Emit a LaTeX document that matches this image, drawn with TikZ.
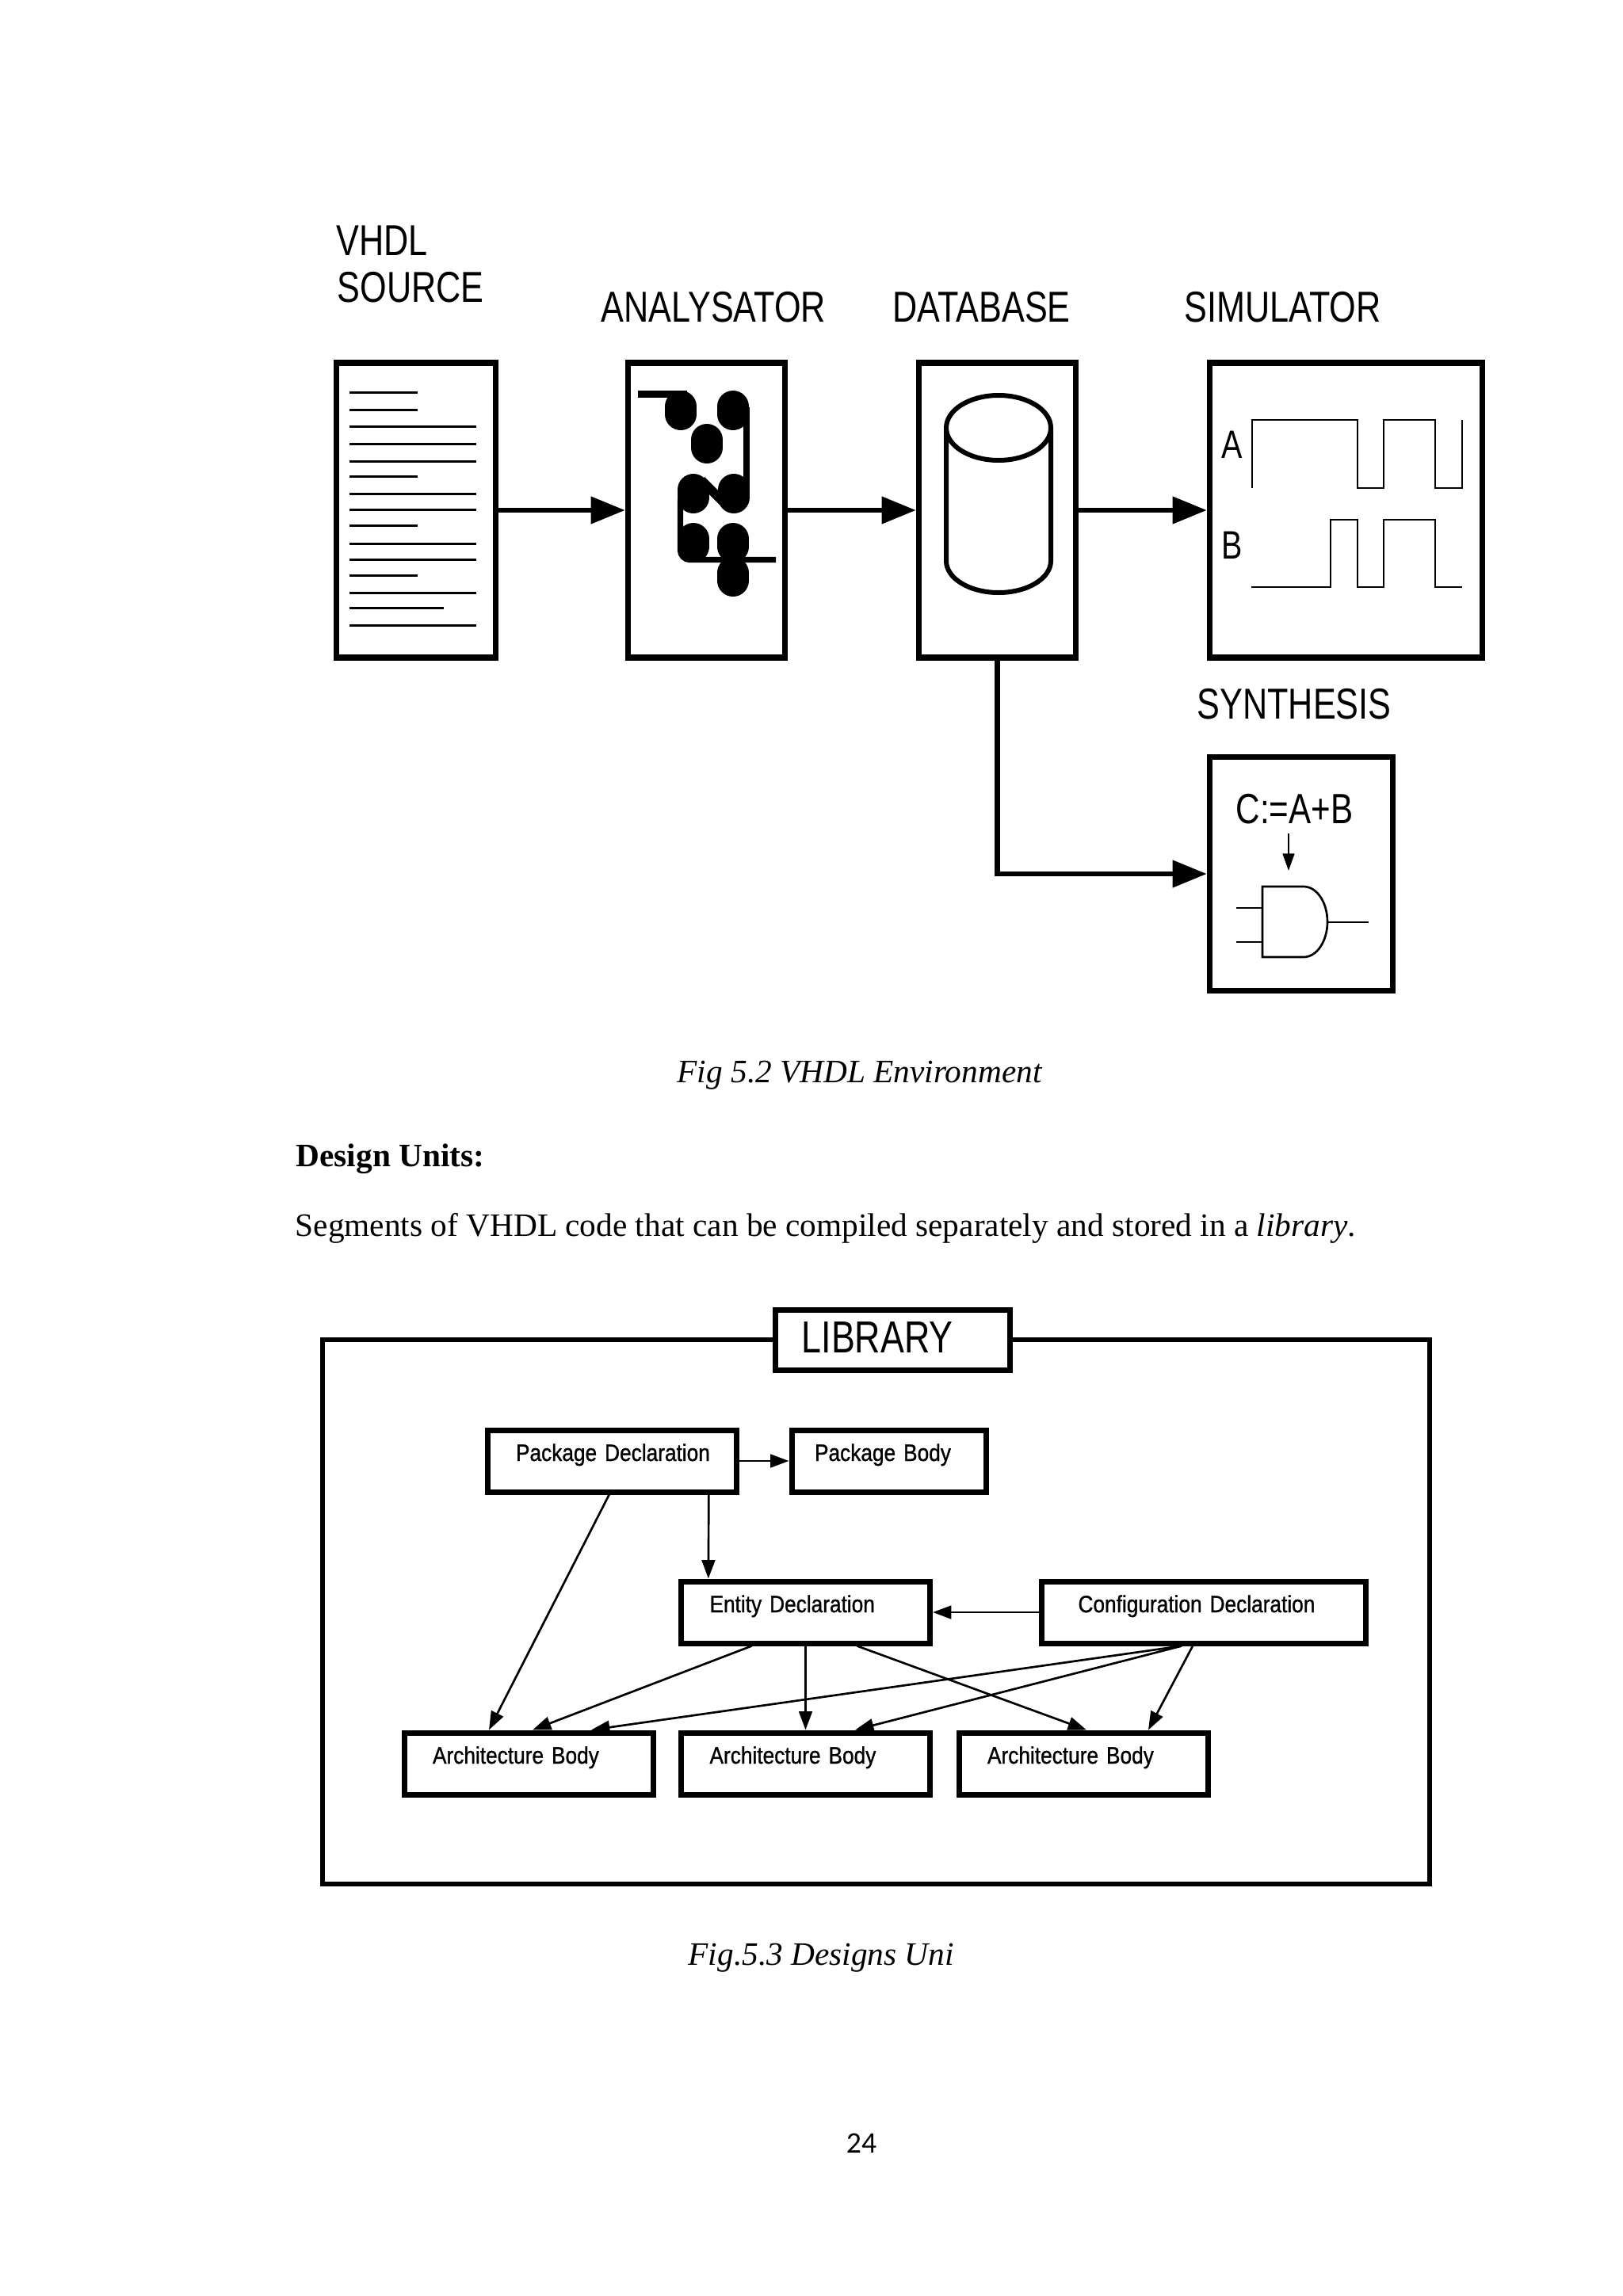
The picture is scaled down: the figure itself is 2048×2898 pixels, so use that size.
\documentclass[tikz,border=0pt]{standalone}
\usepackage{fontspec}
\usetikzlibrary{arrows.meta, positioning, calc}
\setmainfont{Liberation Serif}
\newfontfamily\figfont[FakeStretch=0.79]{Liberation Sans}
\newfontfamily\unitfont[FakeStretch=0.875,FakeBold=1]{Liberation Sans}
\newfontfamily\pagefont{Carlito}

\begin{document}
\begin{tikzpicture}[
    x=0.3pt, y=-0.3pt,
    >={Triangle[length=13pt, width=10pt]},
    figlabel/.style={font=\figfont\fontsize{16.4pt}{19pt}\selectfont, anchor=base west, inner sep=0pt},
    body/.style={font=\fontsize{12.4pt}{15pt}\selectfont, anchor=base west, inner sep=0pt},
    toolbox/.style 2 args={draw, line width=2.2pt, inner sep=0pt,
      minimum width=#1*0.3pt, minimum height=#2*0.3pt},
    unitbox/.style 2 args={draw, line width=2.1pt, inner xsep=0pt, inner ysep=0pt,
      text width=#1, text height=11.7pt, text depth=11.7pt, align=left,
      font=\unitfont\fontsize{9pt}{10pt}\selectfont,
      execute at begin node={\hspace*{#2}}},
    bigarrow/.style={->, line width=2pt},
    thinarrow/.style={-{Triangle[length=7pt, width=5pt]}, line width=0.8pt},
    textline/.style={line width=0.9pt},
    wave/.style={line width=0.8pt},
    blob/.style={line width=12pt, line cap=round},
    wire/.style={line width=2.2pt},
  ]

  % Page
  \useasboundingbox (0,0) rectangle (2048,2898);

  % Tool boxes
  \node[toolbox={201}{372}] (src) at (525,644) {};
  \node[toolbox={198}{372}] (ana) at (891.5,644) {};
  \node[toolbox={198}{372}] (db) at (1258.5,644) {};
  \node[toolbox={344}{372}] (sim) at (1698.5,644) {};
  \node[toolbox={231}{295}] (syn) at (1642,1103) {};

  % Tool titles
  \node[figlabel] (vhdltitle) at (424,322) {VHDL};
  \node[figlabel] (sourcetitle) at (425,381) {SOURCE};
  \node[figlabel] (anatitle) at (758,406) {ANALYSATOR};
  \node[figlabel] (dbtitle) at (1126,406) {DATABASE};
  \node[figlabel] (simtitle) at (1494,406) {SIMULATOR};
  \node[figlabel] (syntitle) at (1510,907) {SYNTHESIS};

  % Text lines of the source file
  \foreach \ypos in {495,517,601,663,726}
    \draw[textline] (441,\ypos) -- (527,\ypos);
  \foreach \ypos in {538,560,582,623,643,686,706,748,789}
    \draw[textline] (441,\ypos) -- (601,\ypos);
  \draw[textline] (441,767) -- (560,767);

  % Analyser gates
  \foreach \xpos/\ypos in {859/513,925/513,892/555,875/618,926/618,875/680,925/680,925/723}
    \draw[blob] (\xpos,\ypos) -- (\xpos,\ypos+10);
  \draw[wire, line width=2.7pt] (805,497.5) -- (867,497.5);
  \draw[wire] (942,514) -- (942,630);
  \draw[wire, rounded corners=3.6pt] (858.5,630) -- (858.5,706.5) -- (979,706.5);
  \draw[wire, line width=3.4pt] (885,606) -- (912,633);

  % Database cylinder
  \draw[line width=1.8pt] (1194,540) arc[start angle=180, end angle=540, x radius=66, y radius=41]
    (1194,540) -- (1194,708) arc[start angle=180, end angle=0, x radius=66, y radius=40] -- (1326,540);

  % Waveforms
  \draw[wave] (1580,616) -- (1580,530) -- (1713,530) -- (1713,616) -- (1746,616) -- (1746,530)
    -- (1811,530) -- (1811,616) -- (1845,616) -- (1845,530);
  \draw[wave] (1579,741) -- (1679,741) -- (1679,656) -- (1713,656) -- (1713,741) -- (1746,741)
    -- (1746,656) -- (1811,656) -- (1811,741) -- (1845,741);
  \node[figlabel, font=\figfont\fontsize{15pt}{18pt}\selectfont] (alabel) at (1541,578) {A};
  \node[figlabel, font=\figfont\fontsize{15pt}{18pt}\selectfont] (blabel) at (1541,705) {B};

  % Gate in the synthesis box
  \node[figlabel, font=\figfont\fontsize{16pt}{18pt}\selectfont] (assign) at (1559,1039) {C:=A+B};
  \coordinate (gatetop) at (1626,1052);
  \coordinate (gatein) at (1626,1099);
  \draw[-{Triangle[length=6.5pt, width=4.4pt]}, line width=0.8pt] (gatetop) -- (gatein);
  \draw[wave] (1593,1119) -- (1645,1119) arc[start angle=-90, end angle=90, x radius=30, y radius=44.5]
    -- (1593,1208) -- cycle;
  \draw[wave] (1560,1146) -- (1593,1146);
  \draw[wave] (1560,1189) -- (1593,1189);
  \draw[wave] (1675,1164) -- (1727,1164);

  % Tool arrows
  \draw[bigarrow] (src) -- (ana);
  \draw[bigarrow] (ana) -- (db);
  \draw[bigarrow] (db) -- (sim);
  \draw[bigarrow] (db.south) |- (syn.west);

  % Caption and text
  \node[body, font=\itshape\fontsize{12.4pt}{15pt}\selectfont] (figa) at (854,1366) {Fig 5.2 VHDL Environment};
  \node[body, font=\bfseries\fontsize{12.4pt}{15pt}\selectfont] (units) at (373,1472) {Design Units:};
  \node[body] (segments) at (372,1560) {Segments of VHDL code that can be compiled separately and stored in a \textit{library}.};

  % Library frame
  \node[draw, line width=2pt, inner sep=0pt, minimum width=1397*0.3pt, minimum height=687*0.3pt] (frame) at (1105.5,2034.5) {};
  \node[draw, fill=white, line width=2.1pt, inner sep=0pt, minimum width=296*0.3pt, minimum height=76*0.3pt] (libbox) at (1126.5,1691) {};
  \node[figlabel, font=\figfont\fontsize{17pt}{19pt}\selectfont] (libtitle) at (1011,1707) {LIBRARY};

  % Design units
  \node[unitbox={94.2pt}{10.8pt}] (pkgdecl) at (772,1844) {Package Declaration};
  \node[unitbox={73.5pt}{8.7pt}] (pkgbody) at (1121.5,1844) {Package Body};
  \node[unitbox={94.2pt}{10.8pt}] (entity) at (1016.5,2035) {Entity Declaration};
  \node[unitbox={122.7pt}{13.8pt}] (config) at (1519,2035) {Configuration Declaration};
  \node[unitbox={94.2pt}{10.8pt}] (archa) at (667,2226) {Architecture Body};
  \node[unitbox={94.2pt}{10.8pt}] (archb) at (1016.5,2226) {Architecture Body};
  \node[unitbox={94.2pt}{10.8pt}] (archc) at (1367,2226) {Architecture Body};

  % Unit arrows
  \draw[thinarrow] (pkgdecl) -- (pkgbody);
  \draw[thinarrow] ([xshift=36.7pt]pkgdecl.south) -- ([xshift=-36.8pt]entity.north);
  \draw[thinarrow] ([xshift=-1pt]pkgdecl.south) -- ([xshift=-15pt]archa.north);
  \draw[thinarrow] (config) -- (entity);
  \draw[thinarrow] ([xshift=-20.4pt]entity.south) -- ([xshift=1.5pt]archa.north);
  \draw[thinarrow] (entity.south) -- (archb.north);
  \draw[thinarrow] ([xshift=19.5pt]entity.south) -- ([xshift=1.2pt]archc.north);
  \draw[thinarrow] ([xshift=-8.4pt]config.south) -- ([xshift=23.7pt]archa.north);
  \draw[thinarrow] ([xshift=-8.4pt]config.south) -- ([xshift=18.8pt]archb.north);
  \draw[thinarrow] ([xshift=-4.2pt]config.south) -- ([xshift=24.6pt]archc.north);

  % Closing lines
  \node[body, font=\itshape\fontsize{12.4pt}{15pt}\selectfont] (figb) at (868,2480) {Fig.5.3 Designs Uni};
  \node[inner sep=0pt, font=\pagefont\fontsize{11.3pt}{13pt}\selectfont] (pagenum) at (1087,2705) {24};

\end{tikzpicture}
\end{document}
